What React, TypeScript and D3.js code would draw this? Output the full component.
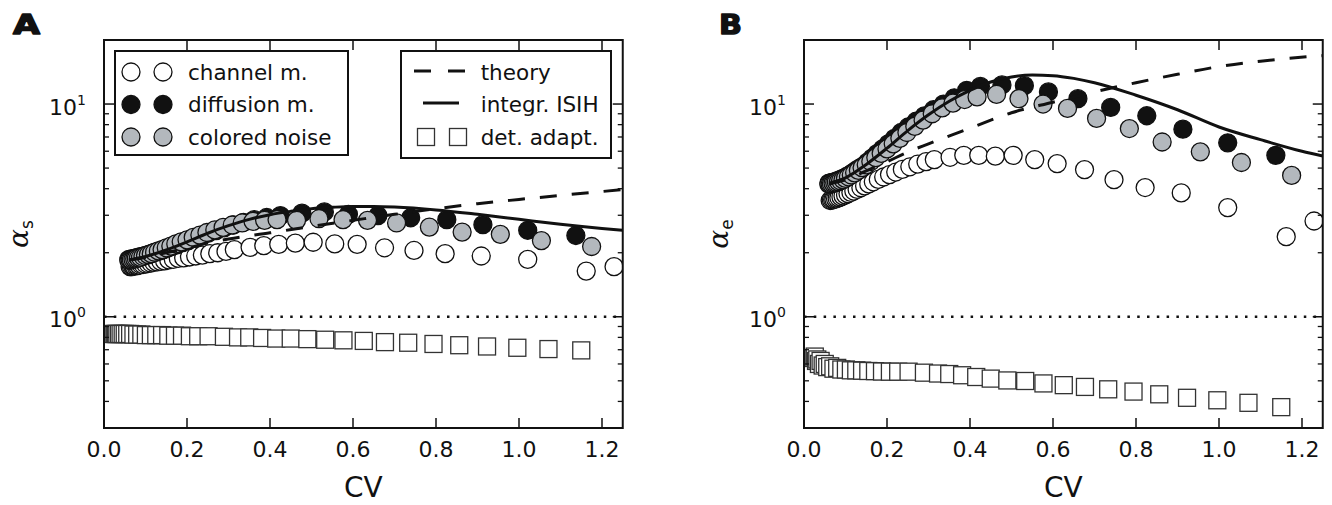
import React from 'react';
import * as d3 from 'd3';

const W = 1332;
const H = 505;

const xTicks = [0, 0.2, 0.4, 0.6, 0.8, 1.0, 1.2];
const xTickLabels = ['0.0', '0.2', '0.4', '0.6', '0.8', '1.0', '1.2'];
const yMajor = [1, 10];
const yMajorExp = ['0', '1'];
const yMinor = [0.3, 0.4, 0.5, 0.6, 0.7, 0.8, 0.9, 2, 3, 4, 5, 6, 7, 8, 9];

const chanCV = [0.063, 0.066, 0.069, 0.072, 0.076, 0.080, 0.084, 0.089, 0.094, 0.100,
  0.106, 0.113, 0.120, 0.128, 0.137, 0.146, 0.156, 0.167, 0.179, 0.192,
  0.206, 0.221, 0.237, 0.255, 0.274, 0.294, 0.314, 0.352, 0.385, 0.421,
  0.461, 0.504, 0.556, 0.610, 0.676, 0.747, 0.822, 0.909, 1.021, 1.162, 1.229];
const chanA = [1.72, 1.72, 1.73, 1.73, 1.74, 1.74, 1.75, 1.76, 1.76, 1.77,
  1.78, 1.79, 1.80, 1.81, 1.82, 1.83, 1.85, 1.86, 1.88, 1.89,
  1.91, 1.93, 1.95, 1.98, 2.00, 2.03, 2.07, 2.12, 2.16, 2.19,
  2.22, 2.24, 2.20, 2.19, 2.11, 2.05, 1.98, 1.93, 1.86, 1.64, 1.72];
const chanB = [3.52, 3.53, 3.55, 3.56, 3.58, 3.60, 3.63, 3.66, 3.70, 3.74,
  3.79, 3.84, 3.90, 3.97, 4.04, 4.12, 4.21, 4.31, 4.42, 4.54,
  4.66, 4.79, 4.93, 5.07, 5.22, 5.36, 5.48, 5.62, 5.74, 5.74,
  5.69, 5.74, 5.48, 5.25, 4.92, 4.41, 4.05, 3.82, 3.26, 2.38, 2.82];

const diffCV = [0.060, 0.063, 0.066, 0.069, 0.073, 0.077, 0.081, 0.086, 0.091, 0.097,
  0.103, 0.110, 0.117, 0.125, 0.134, 0.143, 0.153, 0.164, 0.176, 0.189,
  0.203, 0.218, 0.234, 0.251, 0.270, 0.290, 0.312, 0.336, 0.362, 0.392,
  0.425, 0.477, 0.531, 0.589, 0.660, 0.739, 0.826, 0.913, 1.021, 1.137];
const diffA = [1.86, 1.86, 1.87, 1.87, 1.88, 1.89, 1.90, 1.91, 1.92, 1.93,
  1.95, 1.97, 1.99, 2.01, 2.04, 2.07, 2.10, 2.14, 2.18, 2.23,
  2.28, 2.34, 2.40, 2.47, 2.54, 2.62, 2.70, 2.78, 2.86, 2.93,
  2.99, 3.07, 3.11, 3.03, 2.99, 2.92, 2.86, 2.71, 2.55, 2.41];
const diffB = [4.25, 4.25, 4.27, 4.28, 4.30, 4.33, 4.36, 4.40, 4.45, 4.50,
  4.57, 4.65, 4.75, 4.87, 5.00, 5.12, 5.33, 5.57, 5.85, 6.15,
  6.50, 6.90, 7.35, 7.80, 8.30, 8.80, 9.40, 10.0, 10.7, 11.6,
  12.1, 12.3, 12.2, 11.4, 10.6, 9.64, 8.81, 7.62, 6.57, 5.74];

const colCV = [0.060, 0.063, 0.066, 0.070, 0.074, 0.078, 0.083, 0.088, 0.094, 0.100,
  0.107, 0.114, 0.122, 0.131, 0.140, 0.150, 0.161, 0.173, 0.186, 0.200,
  0.215, 0.231, 0.248, 0.267, 0.287, 0.309, 0.333, 0.359, 0.387, 0.417,
  0.464, 0.518, 0.576, 0.635, 0.705, 0.784, 0.863, 0.955, 1.054, 1.175];
const colA = [1.84, 1.85, 1.85, 1.86, 1.87, 1.88, 1.89, 1.90, 1.92, 1.94,
  1.96, 1.98, 2.01, 2.04, 2.07, 2.11, 2.15, 2.20, 2.25, 2.30,
  2.36, 2.42, 2.49, 2.56, 2.63, 2.70, 2.76, 2.81, 2.84, 2.86,
  2.84, 2.89, 2.86, 2.84, 2.76, 2.64, 2.50, 2.44, 2.28, 2.14];
const colB = [4.20, 4.20, 4.22, 4.24, 4.26, 4.29, 4.32, 4.36, 4.41, 4.47,
  4.55, 4.64, 4.75, 4.88, 5.02, 5.18, 5.37, 5.60, 5.86, 6.15,
  6.50, 6.90, 7.35, 7.85, 8.40, 9.00, 9.60, 10.1, 10.5, 10.8,
  11.1, 10.6, 10.0, 9.54, 8.56, 7.67, 6.63, 5.96, 5.31, 4.62];

const detCV = [0.023, 0.026, 0.029, 0.032, 0.036, 0.040, 0.045, 0.050, 0.056, 0.063,
  0.071, 0.080, 0.090, 0.101, 0.113, 0.126, 0.140, 0.155, 0.171, 0.188,
  0.207, 0.227, 0.252, 0.289, 0.323, 0.350, 0.381, 0.415, 0.450, 0.490,
  0.533, 0.577, 0.626, 0.677, 0.733, 0.794, 0.856, 0.923, 0.996, 1.071, 1.150];
const detA = [0.83, 0.83, 0.83, 0.83, 0.83, 0.83, 0.83, 0.83, 0.83, 0.83,
  0.825, 0.825, 0.825, 0.82, 0.82, 0.82, 0.82, 0.815, 0.815, 0.815,
  0.81, 0.81, 0.81, 0.805, 0.80, 0.80, 0.795, 0.79, 0.79, 0.785,
  0.78, 0.775, 0.77, 0.76, 0.755, 0.745, 0.735, 0.725, 0.715, 0.705, 0.695];
const detB = [0.64, 0.65, 0.62, 0.63, 0.60, 0.62, 0.59, 0.60, 0.58, 0.585,
  0.57, 0.575, 0.565, 0.565, 0.56, 0.56, 0.558, 0.556, 0.555, 0.553,
  0.552, 0.552, 0.552, 0.546, 0.541, 0.538, 0.531, 0.521, 0.512, 0.502,
  0.499, 0.486, 0.477, 0.468, 0.456, 0.445, 0.432, 0.416, 0.405, 0.394, 0.376];

const isihCV = [0.06, 0.1, 0.15, 0.2, 0.25, 0.3, 0.35, 0.4, 0.45, 0.5, 0.55, 0.6, 0.65, 0.7, 0.8, 0.9, 1.0, 1.1, 1.2, 1.25];
const isihA = [1.85, 1.92, 2.06, 2.25, 2.47, 2.68, 2.87, 3.02, 3.13, 3.22, 3.27, 3.30, 3.30, 3.28, 3.18, 3.03, 2.87, 2.72, 2.60, 2.55];
const isihB = [4.25, 4.5, 5.2, 6.2, 7.5, 8.9, 10.3, 11.6, 12.7, 13.4, 13.7, 13.6, 13.2, 12.6, 11.0, 9.4, 7.8, 6.8, 6.0, 5.7];

const thCV = [0.06, 0.1, 0.15, 0.2, 0.25, 0.3, 0.4, 0.5, 0.6, 0.7, 0.8, 0.9, 1.0, 1.1, 1.25];
const thA = [1.85, 1.90, 2.00, 2.10, 2.22, 2.32, 2.48, 2.66, 2.84, 3.03, 3.22, 3.40, 3.56, 3.72, 3.96];
const thB = [4.2, 4.4, 4.85, 5.35, 5.95, 6.5, 7.7, 9.1, 10.2, 11.4, 12.6, 13.8, 15.0, 15.9, 16.9];

const legend1 = ['channel m.', 'diffusion m.', 'colored noise'];
const legend2 = ['theory', 'integr. ISIH', 'det. adapt.'];

const GRAY = '#b3b8bd';
const FONT = 'DejaVu Sans, Verdana, sans-serif';

type PanelProps = {
  ox: number;
  letter: string;
  letterX: number;
  letterW: number;
  sub: string;
  chan: number[];
  diff: number[];
  col: number[];
  det: number[];
  isih: number[];
  th: number[];
  legend: boolean;
};

function Panel(p: PanelProps) {
  const x0 = p.ox;
  const x1 = p.ox + 518.75;
  const y0 = 40;
  const y1 = 428;
  const x = d3.scaleLinear().domain([0, 1.25]).range([x0, x1]);
  const y = d3.scaleLog().domain([0.3, 20]).range([y1, y0]);
  const line = d3.line<[number, number]>().x(d => x(d[0])).y(d => y(d[1])).curve(d3.curveMonotoneX);
  const clipId = 'clip' + p.letter;
  const R = 9;
  const S = 17;
  return (
    <g>
      <defs>
        <clipPath id={clipId}>
          <rect x={x0} y={y0} width={x1 - x0} height={y1 - y0} />
        </clipPath>
      </defs>
      <g clipPath={`url(#${clipId})`}>
        <line x1={x0} x2={x1} y1={y(1)} y2={y(1)} stroke="#111" strokeWidth={2.5} strokeDasharray="2.5,7.3" />
        {chanCV.map((c, i) => (
          <circle key={'c' + i} cx={x(c)} cy={y(p.chan[i])} r={R} fill="#fff" stroke="#111" strokeWidth={1.3} />
        ))}
        {diffCV.map((c, i) => (
          <circle key={'d' + i} cx={x(c)} cy={y(p.diff[i])} r={R} fill="#111" stroke="#111" strokeWidth={1.3} />
        ))}
        {colCV.map((c, i) => (
          <circle key={'g' + i} cx={x(c)} cy={y(p.col[i])} r={R} fill={GRAY} stroke="#111" strokeWidth={1.3} />
        ))}
        {detCV.map((c, i) => (
          <rect key={'s' + i} x={x(c) - S / 2} y={y(p.det[i]) - S / 2} width={S} height={S} fill="#fff" stroke="#333" strokeWidth={1.3} />
        ))}
        <path d={line(thCV.map((c, i) => [c, p.th[i]]) as any) || ''} fill="none" stroke="#111" strokeWidth={3} strokeDasharray="17,15" />
        <path d={line(isihCV.map((c, i) => [c, p.isih[i]]) as any) || ''} fill="none" stroke="#111" strokeWidth={3} />
      </g>
      {xTicks.map((t, i) => (
        <g key={'xt' + i}>
          <line x1={x(t)} x2={x(t)} y1={y1} y2={y1 - 10} stroke="#111" strokeWidth={1.5} />
          <line x1={x(t)} x2={x(t)} y1={y0} y2={y0 + 10} stroke="#111" strokeWidth={1.5} />
          <text x={x(t)} y={457} textAnchor="middle" fontFamily={FONT} fontSize={22} fill="#111">{xTickLabels[i]}</text>
        </g>
      ))}
      {yMajor.map((t, i) => (
        <g key={'ym' + i}>
          <line x1={x0} x2={x0 + 10} y1={y(t)} y2={y(t)} stroke="#111" strokeWidth={1.5} />
          <line x1={x1} x2={x1 - 10} y1={y(t)} y2={y(t)} stroke="#111" strokeWidth={1.5} />
          <text x={x0 - 18} y={y(t) + 10.5} textAnchor="end" fontFamily={FONT} fontSize={22} fill="#111">
            10<tspan fontSize={14} dy={-10}>{yMajorExp[i]}</tspan>
          </text>
        </g>
      ))}
      {yMinor.map((t, i) => (
        <g key={'yn' + i}>
          <line x1={x0} x2={x0 + 5} y1={y(t)} y2={y(t)} stroke="#111" strokeWidth={1.3} />
          <line x1={x1} x2={x1 - 5} y1={y(t)} y2={y(t)} stroke="#111" strokeWidth={1.3} />
        </g>
      ))}
      <rect x={x0} y={y0} width={x1 - x0} height={y1 - y0} fill="none" stroke="#111" strokeWidth={2} />
      <text x={(x0 + x1) / 2} y={497} textAnchor="middle" fontFamily={FONT} fontSize={28} fill="#111">CV</text>
      <text transform={`translate(${p.ox - 76},${(y0 + y1) / 2}) rotate(-90)`} textAnchor="middle" fill="#111">
        <tspan fontFamily="DejaVu Serif, serif" fontStyle="italic" fontSize={28}>α</tspan>
        <tspan fontFamily={FONT} fontSize={17} dy={5}>{p.sub}</tspan>
      </text>
      <text x={p.letterX} y={34} fontFamily={FONT} fontWeight="bold" fontSize={27} textLength={p.letterW} lengthAdjust="spacingAndGlyphs" fill="#111" stroke="#111" strokeWidth={1.4} strokeLinejoin="round">{p.letter}</text>
      {p.legend && (
        <g>
          <rect x={115} y={51} width={233} height={104} fill="#fff" stroke="#111" strokeWidth={2} />
          {[0, 1, 2].map(k => {
            const ry = 72 + k * 32.5;
            const fill = k === 0 ? '#fff' : k === 1 ? '#111' : GRAY;
            return (
              <g key={'l1' + k}>
                <circle cx={131} cy={ry} r={R} fill={fill} stroke="#111" strokeWidth={1.3} />
                <circle cx={163} cy={ry} r={R} fill={fill} stroke="#111" strokeWidth={1.3} />
                <text x={188} y={ry + 7.5} fontFamily={FONT} fontSize={21.5} fill="#111">{legend1[k]}</text>
              </g>
            );
          })}
          <rect x={401} y={51} width={210} height={107} fill="#fff" stroke="#111" strokeWidth={2} />
          <line x1={414} x2={466} y1={71} y2={71} stroke="#111" strokeWidth={3} strokeDasharray="17,17" />
          <line x1={423} x2={459} y1={103} y2={103} stroke="#111" strokeWidth={3} />
          <rect x={426 - S / 2} y={137 - S / 2} width={S} height={S} fill="#fff" stroke="#333" strokeWidth={1.3} />
          <rect x={458 - S / 2} y={137 - S / 2} width={S} height={S} fill="#fff" stroke="#333" strokeWidth={1.3} />
          {[0, 1, 2].map(k => (
            <text key={'l2' + k} x={480.7} y={72 + k * 32.5 + 7.5} fontFamily={FONT} fontSize={21.5} fill="#111">{legend2[k]}</text>
          ))}
        </g>
      )}
    </g>
  );
}

export default function App() {
  return (
    <svg width={W} height={H} style={{ position: 'absolute', left: 0, top: 0, background: '#fff' }}>
      <rect x={0} y={0} width={W} height={H} fill="#fff" />
      <Panel ox={104} letter="A" letterX={13} letterW={27} sub="s" chan={chanA} diff={diffA} col={colA} det={detA} isih={isihA} th={thA} legend={true} />
      <Panel ox={804} letter="B" letterX={719} letterW={23} sub="e" chan={chanB} diff={diffB} col={colB} det={detB} isih={isihB} th={thB} legend={false} />
    </svg>
  );
}
